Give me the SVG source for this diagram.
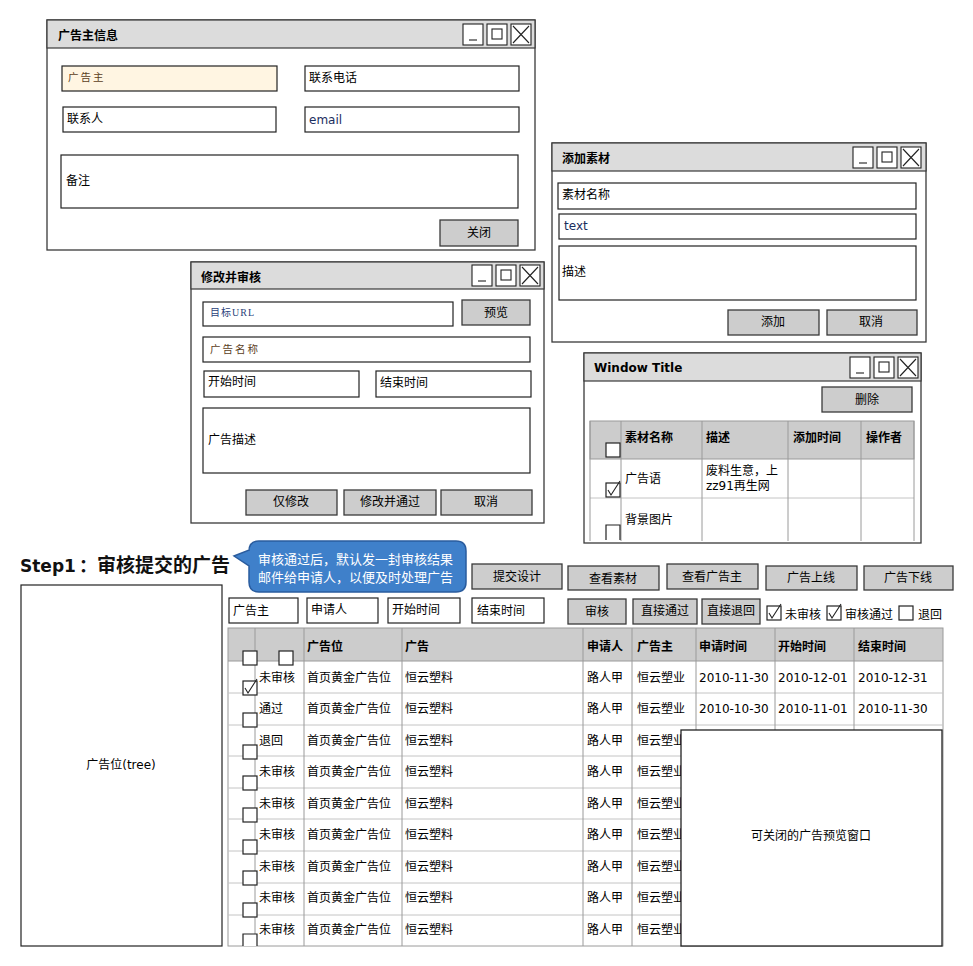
<svg xmlns="http://www.w3.org/2000/svg" xmlns:xlink="http://www.w3.org/1999/xlink" width="973" height="966" viewBox="0 0 973 966">
<style>
.win{fill:#fff;stroke:#3a3a3a;stroke-width:1.3}
.bar{fill:#dcdcdc;stroke:#3a3a3a;stroke-width:1.2}
.fld{fill:#fff;stroke:#222;stroke-width:1.2}
.btn{fill:#cdcdcd;stroke:#3a3a3a;stroke-width:1.3}
.ctl{fill:#fff;stroke:#222;stroke-width:1.1}
.ln{stroke:#222;stroke-width:1.1;fill:none}
.cb{fill:#fff;stroke:#222;stroke-width:1.2}
.t{font-family:"DejaVu Sans","Noto Sans CJK SC",sans-serif;font-size:12px;fill:#000}
.tb{font-family:"DejaVu Sans","Noto Sans CJK SC",sans-serif;font-size:12px;font-weight:bold;fill:#000}
.c{text-anchor:middle}
.ph{font-family:"Liberation Serif","Noto Sans CJK SC",serif;font-size:10.5px;fill:#5b3e1c;letter-spacing:2px}
.blue{fill:#1b2e5e}
.hdr{fill:#cccccc}
.grid{stroke:#9a9a9a;stroke-width:1;fill:none}
.hgrid{stroke:#c4c4c4;stroke-width:1;fill:none}
</style>
<defs>
<g id="ctls">
<rect class="ctl" x="0" y="0" width="20" height="21"/>
<line class="ln" x1="6" y1="16" x2="14" y2="16"/>
<rect class="ctl" x="24" y="0" width="20" height="21"/>
<rect class="ctl" x="29" y="5" width="10" height="10"/>
<rect class="ctl" x="48" y="0" width="20" height="21"/>
<path class="ln" d="M50 2 L66 19 M66 2 L50 19"/>
</g>
<rect id="box" class="cb" x="0" y="0" width="14" height="14"/>
<g id="chk">
<rect class="cb" x="0" y="0" width="14" height="14"/>
<path class="ln" d="M2 7 L5 12 L14 -2"/>
</g>
</defs>

<g id="win-advertiser">
<rect class="win" x="47" y="20" width="488" height="230"/>
<rect class="bar" x="47" y="20" width="488" height="28"/>
<text class="tb" x="58" y="40">广告主信息</text>
<use xlink:href="#ctls" x="463" y="24"/>
<rect x="62" y="66" width="215" height="25" fill="#fff5e2" stroke="#222" stroke-width="1.2"/>
<text class="ph" x="68" y="81">广告主</text>
<rect class="fld" x="305" y="66" width="214" height="25"/>
<text class="t" x="309" y="82">联系电话</text>
<rect class="fld" x="63" y="107" width="213" height="25"/>
<text class="t" x="67" y="123">联系人</text>
<rect class="fld" x="305" y="107" width="214" height="25"/>
<text class="t blue" x="309" y="124">email</text>
<rect class="fld" x="61" y="155" width="457" height="53"/>
<text class="t" x="66" y="185">备注</text>
<rect class="btn" x="440" y="220" width="78" height="26"/>
<text class="t c" x="479" y="237">关闭</text>
</g>

<g id="win-edit">
<rect class="win" x="191" y="262" width="353" height="261"/>
<rect class="bar" x="191" y="262" width="353" height="27"/>
<text class="tb" x="201" y="282">修改并审核</text>
<use xlink:href="#ctls" x="472" y="265"/>
<rect class="fld" x="203" y="302" width="250" height="24"/>
<text class="ph" x="210" y="316" style="fill:#2a3f7a;letter-spacing:1px;font-size:10px">目标URL</text>
<rect class="btn" x="462" y="300" width="68" height="25"/>
<text class="t c" x="496" y="317">预览</text>
<rect class="fld" x="203" y="337" width="327" height="25"/>
<text class="ph" x="210" y="353">广告名称</text>
<rect class="fld" x="204" y="371" width="155" height="26"/>
<text class="t" x="208" y="386">开始时间</text>
<rect class="fld" x="376" y="371" width="155" height="26"/>
<text class="t" x="380" y="387">结束时间</text>
<rect class="fld" x="203" y="408" width="327" height="65"/>
<text class="t" x="208" y="444">广告描述</text>
<rect class="btn" x="246" y="490" width="91" height="25"/>
<text class="t c" x="291" y="506">仅修改</text>
<rect class="btn" x="344" y="490" width="92" height="25"/>
<text class="t c" x="390" y="506">修改并通过</text>
<rect class="btn" x="441" y="490" width="91" height="25"/>
<text class="t c" x="486" y="506">取消</text>
</g>

<g id="win-material">
<rect class="win" x="552" y="143" width="374" height="199"/>
<rect class="bar" x="552" y="143" width="374" height="28"/>
<text class="tb" x="562" y="163">添加素材</text>
<use xlink:href="#ctls" x="853" y="147"/>
<rect class="fld" x="558" y="183" width="358" height="26"/>
<text class="t" x="562" y="199">素材名称</text>
<rect class="fld" x="559" y="214" width="357" height="25"/>
<text class="t blue" x="564" y="230">text</text>
<rect class="fld" x="559" y="246" width="357" height="54"/>
<text class="t" x="562" y="276">描述</text>
<rect class="btn" x="728" y="310" width="91" height="25"/>
<text class="t c" x="773" y="326">添加</text>
<rect class="btn" x="827" y="310" width="90" height="25"/>
<text class="t c" x="871" y="326">取消</text>
</g>

<g id="win-list">
<rect class="win" x="584" y="353" width="337" height="190"/>
<rect class="bar" x="584" y="353" width="337" height="28"/>
<text class="tb" x="594" y="372">Window Title</text>
<use xlink:href="#ctls" x="850" y="357"/>
<rect class="btn" x="822" y="387" width="90" height="25"/>
<text class="t c" x="867" y="404">删除</text>
<rect class="hdr" x="590" y="421" width="324" height="38" stroke="#9a9a9a"/>
<line class="hgrid" x1="590" y1="498" x2="914" y2="498"/>
<path class="grid" d="M590 421 V541 M621 421 V541 M702 421 V541 M788 421 V541 M861 421 V541 M914 421 V541"/>
<text class="tb" x="625" y="442">素材名称</text>
<text class="tb" x="706" y="442">描述</text>
<text class="tb" x="793" y="442">添加时间</text>
<text class="tb" x="866" y="442">操作者</text>
<use xlink:href="#box" x="606" y="443"/>
<use xlink:href="#chk" x="606" y="483"/>
<text class="t" x="625" y="483">广告语</text>
<text class="t" x="706" y="475">废料生意，上</text>
<text class="t" x="706" y="490">zz91再生网</text>
<path class="cb" d="M606 540 V525 H620 V540"/>
<text class="t" x="625" y="524">背景图片</text>
</g>

<g id="heading">
<text y="572" style="font-family:'DejaVu Sans','Noto Sans CJK SC',sans-serif;font-weight:bold;fill:#111"><tspan x="20" style="font-size:17px">Step1</tspan><tspan x="79" style="font-size:18px">：</tspan><tspan x="97" style="font-size:19px">审核提交的广告</tspan></text>
</g>

<g id="callout">
<path d="M259 541 H456 Q466 541 466 551 V582 Q466 592 456 592 H259 Q249 592 249 582 V566 L234 556 L249 550 V551 Q249 541 259 541 Z" fill="#3f80ca" stroke="#2a5c9e" stroke-width="1.5"/>
<text x="258" y="564" style="font-family:'Noto Sans CJK SC',sans-serif;font-size:13px;fill:#fff">审核通过后，默认发一封审核结果</text>
<text x="258" y="582" style="font-family:'Noto Sans CJK SC',sans-serif;font-size:13px;fill:#fff">邮件给申请人，以便及时处理广告</text>
</g>

<g id="tree">
<rect class="fld" x="21" y="585" width="201" height="361"/>
<text class="t c" x="121" y="769">广告位(tree)</text>
</g>

<g id="toolbar">
<rect class="btn" x="472" y="564" width="90" height="25"/>
<text class="t c" x="517" y="581">提交设计</text>
<rect class="btn" x="568" y="566" width="91" height="24"/>
<text class="t c" x="613" y="583">查看素材</text>
<rect class="btn" x="667" y="564" width="91" height="25"/>
<text class="t c" x="712" y="581">查看广告主</text>
<rect class="btn" x="766" y="566" width="91" height="24"/>
<text class="t c" x="811" y="582">广告上线</text>
<rect class="btn" x="864" y="566" width="89" height="24"/>
<text class="t c" x="908" y="582">广告下线</text>
</g>

<g id="filters">
<rect class="fld" x="229" y="598" width="69" height="25"/>
<text class="t" x="233" y="615">广告主</text>
<rect class="fld" x="307" y="598" width="71" height="25"/>
<text class="t" x="311" y="614">申请人</text>
<rect class="fld" x="388" y="598" width="72" height="25"/>
<text class="t" x="392" y="614">开始时间</text>
<rect class="fld" x="472" y="598" width="72" height="25"/>
<text class="t" x="477" y="615">结束时间</text>
<rect class="btn" x="568" y="599" width="58" height="25"/>
<text class="t c" x="597" y="616">审核</text>
<rect class="btn" x="633" y="599" width="64" height="25"/>
<text class="t c" x="665" y="615">直接通过</text>
<rect class="btn" x="702" y="599" width="58" height="25"/>
<text class="t c" x="731" y="615">直接退回</text>
<use xlink:href="#chk" x="767" y="606"/>
<text class="t" x="785" y="619">未审核</text>
<use xlink:href="#chk" x="827" y="606"/>
<text class="t" x="845" y="619">审核通过</text>
<use xlink:href="#box" x="899" y="606"/>
<text class="t" x="918" y="619">退回</text>
</g>

<g id="ad-table">
<rect class="hdr" x="228" y="628" width="715" height="33"/>
<rect x="228" y="628" width="715" height="318" fill="none" stroke="#9a9a9a"/>
<path class="hgrid" d="M228 693 H943 M228 725 H943 M228 756 H943 M228 788 H943 M228 819 H943 M228 851 H943 M228 883 H943 M228 915 H943"/>
<line x1="228" y1="661" x2="943" y2="661" stroke="#9a9a9a"/>
<path class="grid" d="M255 628 V946 M304 628 V946 M402 628 V946 M583 628 V946 M632 628 V946 M696 628 V946 M775 628 V946 M854 628 V946"/>
<text class="tb" x="307" y="651">广告位</text>
<text class="tb" x="405" y="651">广告</text>
<text class="tb" x="587" y="651">申请人</text>
<text class="tb" x="637" y="651">广告主</text>
<text class="tb" x="699" y="651">申请时间</text>
<text class="tb" x="778" y="651">开始时间</text>
<text class="tb" x="858" y="651">结束时间</text>
<use xlink:href="#box" x="243" y="651"/>
<use xlink:href="#box" x="279" y="651"/>

<use xlink:href="#chk" x="243" y="681"/>
<text class="t" x="259" y="682">未审核</text><text class="t" x="307" y="682">首页黄金广告位</text><text class="t" x="405" y="682">恒云塑料</text><text class="t" x="587" y="682">路人甲</text><text class="t" x="637" y="682">恒云塑业</text>
<text class="t" x="699" y="682">2010-11-30</text><text class="t" x="778" y="682">2010-12-01</text><text class="t" x="858" y="682">2010-12-31</text>

<use xlink:href="#box" x="243" y="713"/>
<text class="t" x="259" y="713">通过</text><text class="t" x="307" y="713">首页黄金广告位</text><text class="t" x="405" y="713">恒云塑料</text><text class="t" x="587" y="713">路人甲</text><text class="t" x="637" y="713">恒云塑业</text>
<text class="t" x="699" y="713">2010-10-30</text><text class="t" x="778" y="713">2010-11-01</text><text class="t" x="858" y="713">2010-11-30</text>

<use xlink:href="#box" x="243" y="745"/>
<text class="t" x="259" y="745">退回</text><text class="t" x="307" y="745">首页黄金广告位</text><text class="t" x="405" y="745">恒云塑料</text><text class="t" x="587" y="745">路人甲</text><text class="t" x="637" y="745">恒云塑业</text>

<use xlink:href="#box" x="243" y="776"/>
<text class="t" x="259" y="776">未审核</text><text class="t" x="307" y="776">首页黄金广告位</text><text class="t" x="405" y="776">恒云塑料</text><text class="t" x="587" y="776">路人甲</text><text class="t" x="637" y="776">恒云塑业</text>

<use xlink:href="#box" x="243" y="808"/>
<text class="t" x="259" y="808">未审核</text><text class="t" x="307" y="808">首页黄金广告位</text><text class="t" x="405" y="808">恒云塑料</text><text class="t" x="587" y="808">路人甲</text><text class="t" x="637" y="808">恒云塑业</text>

<use xlink:href="#box" x="243" y="840"/>
<text class="t" x="259" y="839">未审核</text><text class="t" x="307" y="839">首页黄金广告位</text><text class="t" x="405" y="839">恒云塑料</text><text class="t" x="587" y="839">路人甲</text><text class="t" x="637" y="839">恒云塑业</text>

<use xlink:href="#box" x="243" y="871"/>
<text class="t" x="259" y="871">未审核</text><text class="t" x="307" y="871">首页黄金广告位</text><text class="t" x="405" y="871">恒云塑料</text><text class="t" x="587" y="871">路人甲</text><text class="t" x="637" y="871">恒云塑业</text>

<use xlink:href="#box" x="243" y="903"/>
<text class="t" x="259" y="902">未审核</text><text class="t" x="307" y="902">首页黄金广告位</text><text class="t" x="405" y="902">恒云塑料</text><text class="t" x="587" y="902">路人甲</text><text class="t" x="637" y="902">恒云塑业</text>

<path class="cb" d="M243 946 V934 H257 V946"/>
<text class="t" x="259" y="934">未审核</text><text class="t" x="307" y="934">首页黄金广告位</text><text class="t" x="405" y="934">恒云塑料</text><text class="t" x="587" y="934">路人甲</text><text class="t" x="637" y="934">恒云塑业</text>
</g>

<g id="preview-popup">
<rect x="681" y="730" width="261" height="216" fill="#fff" stroke="#222" stroke-width="1.3"/>
<text class="t c" x="811" y="840">可关闭的广告预览窗口</text>
</g>

<g id="connectors"></g>
</svg>
